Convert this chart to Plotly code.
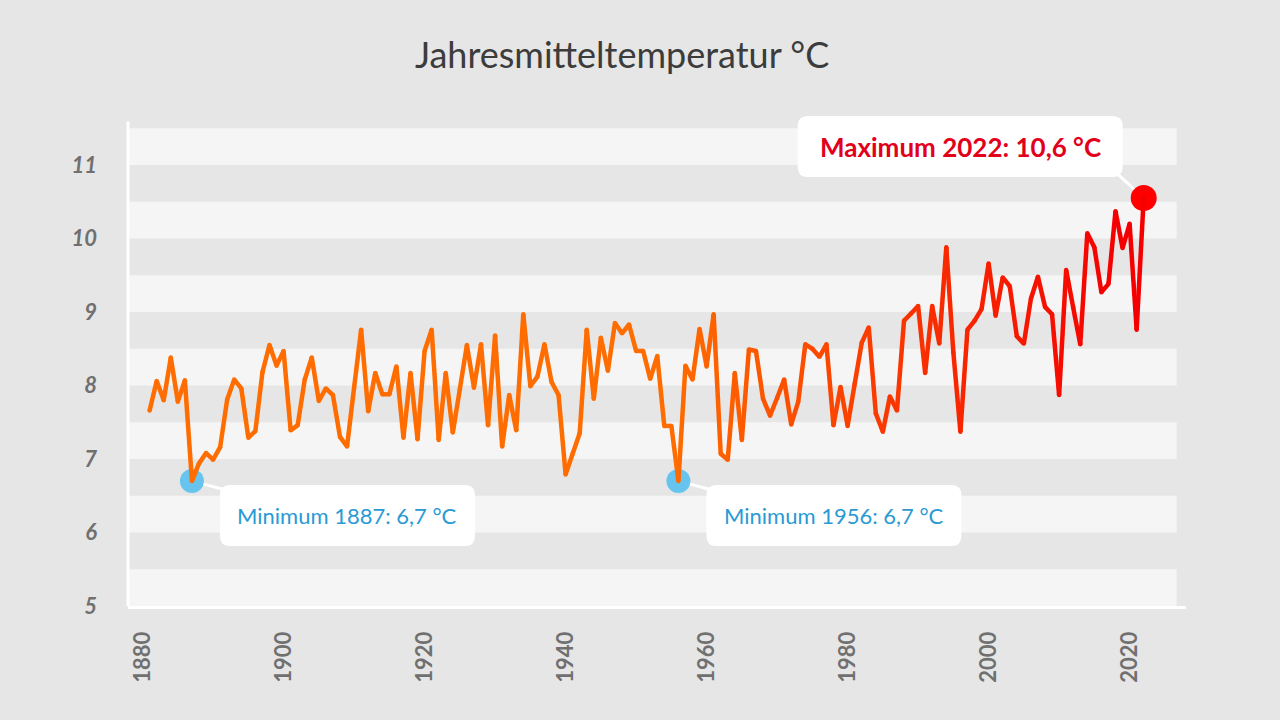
import plotly.graph_objects as go

# Jahresmitteltemperatur Deutschland 1881-2022
years = list(range(1881, 2023))
temps = [
    7.66, 8.06, 7.80, 8.38, 7.78, 8.07, 6.70, 6.94, 7.08, 6.99,  # 1881-1890
    7.16, 7.81, 8.08, 7.96, 7.29, 7.38, 8.18, 8.55, 8.27, 8.47,  # 1891-1900
    7.39, 7.46, 8.08, 8.38, 7.79, 7.96, 7.87, 7.30, 7.17, 7.97,  # 1901-1910
    8.76, 7.65, 8.17, 7.88, 7.88, 8.26, 7.29, 8.17, 7.27, 8.47,  # 1911-1920
    8.76, 7.26, 8.17, 7.36, 7.95, 8.55, 7.97, 8.56, 7.46, 8.68,  # 1921-1930
    7.17, 7.87, 7.39, 8.97, 7.99, 8.12, 8.56, 8.05, 7.87, 6.79,  # 1931-1940
    7.07, 7.35, 8.76, 7.82, 8.65, 8.20, 8.85, 8.71, 8.83, 8.47,  # 1941-1950
    8.47, 8.09, 8.40, 7.45, 7.45, 6.70, 8.27, 8.08, 8.77, 8.26,  # 1951-1960
    8.97, 7.07, 6.99, 8.17, 7.26, 8.49, 8.47, 7.82, 7.59, 7.83,  # 1961-1970
    8.08, 7.47, 7.78, 8.56, 8.50, 8.39, 8.56, 7.46, 7.98, 7.45,  # 1971-1980
    8.02, 8.58, 8.79, 7.62, 7.37, 7.85, 7.66, 8.88, 8.98, 9.08,  # 1981-1990
    8.17, 9.08, 8.57, 9.88, 8.45, 7.37, 8.76, 8.88, 9.04, 9.66,  # 1991-2000
    8.95, 9.47, 9.35, 8.67, 8.57, 9.18, 9.48, 9.07, 8.97, 7.87,  # 2001-2010
    9.57, 9.06, 8.56, 10.07, 9.88, 9.27, 9.38, 10.37, 9.87, 10.20,  # 2011-2020
    8.76, 10.55,  # 2021-2022
]

min_years = [1887, 1956]
min_temps = [6.7, 6.7]
min_labels = ["Minimum 1887: 6,7 °C", "Minimum 1956: 6,7 °C"]
max_year = 2022
max_temp = 10.55
max_label = "Maximum 2022: 10,6 °C"

x_ticks = list(range(1880, 2021, 20))
y_ticks = list(range(5, 12))

BG = "#e6e6e6"
STRIPE = "#f5f5f5"
FONT = "Lato"


def seg_color(year):
    t = min(max((year - 1955) / (2018 - 1955), 0), 1)
    return "rgb(%d,%d,0)" % (255 - 10 * t, 108 * (1 - t))


def rounded_box(x0, x1, y0, y1, r=10):
    # path in pixel offsets (y up) relative to an anchor
    return (f"M{x0 + r},{y1} L{x1 - r},{y1} Q{x1},{y1} {x1},{y1 - r} "
            f"L{x1},{y0 + r} Q{x1},{y0} {x1 - r},{y0} L{x0 + r},{y0} "
            f"Q{x0},{y0} {x0},{y0 + r} L{x0},{y1 - r} Q{x0},{y1} {x0 + r},{y1} Z")


fig = go.Figure()

# highlight dots first, the line runs over them
fig.add_trace(go.Scatter(
    x=min_years, y=min_temps, mode="markers",
    marker=dict(size=24, color="#66c4ee", line=dict(width=0)),
    hoverinfo="skip", showlegend=False))
fig.add_trace(go.Scatter(
    x=[max_year], y=[max_temp], mode="markers",
    marker=dict(size=26, color="#ff0000", line=dict(width=0)),
    hoverinfo="skip", showlegend=False))

for i in range(len(years) - 1):
    fig.add_trace(go.Scatter(
        x=years[i:i + 2], y=temps[i:i + 2], mode="lines",
        line=dict(color=seg_color(years[i]), width=4.5),
        hoverinfo="skip", showlegend=False))

# joints
fig.add_trace(go.Scatter(
    x=years, y=temps, mode="markers",
    marker=dict(size=4.5, color=[seg_color(y) for y in years], line=dict(width=0)),
    hoverinfo="skip", showlegend=False))

shapes = []
# stripes
for k in y_ticks:
    shapes.append(dict(type="rect", xref="paper", yref="y", x0=0, x1=0.9912,
                       y0=k, y1=k + 0.5, fillcolor=STRIPE, line=dict(width=0),
                       layer="below"))
# y axis line
shapes.append(dict(type="line", xref="paper", yref="paper", x0=0, x1=0,
                   y0=0, y1=0.9766, line=dict(color="white", width=3)))

annotations = []
# minimum boxes
for yr, t, lab in zip(min_years, min_temps, min_labels):
    shapes.append(dict(type="line", xref="x", yref="y", xsizemode="pixel",
                       ysizemode="pixel", xanchor=yr, yanchor=t,
                       x0=11.6, y0=-3.1, x1=30, y1=-8,
                       line=dict(color="white", width=3)))
    shapes.append(dict(type="path", xref="x", yref="y", xsizemode="pixel",
                       ysizemode="pixel", xanchor=yr, yanchor=t,
                       path=rounded_box(28, 283, -65, -4),
                       fillcolor="white", line=dict(width=0)))
    annotations.append(dict(x=yr, y=t, xref="x", yref="y", text=lab,
                            showarrow=False, xshift=155.5, yshift=-34.5,
                            font=dict(family=FONT, size=22, color="#2a9ad4")))

# maximum box
shapes.append(dict(type="line", xref="x", yref="y", xsizemode="pixel",
                   ysizemode="pixel", xanchor=max_year, yanchor=max_temp,
                   x0=-9.5, y0=8.8, x1=-26, y1=24,
                   line=dict(color="white", width=3)))
shapes.append(dict(type="path", xref="x", yref="y", xsizemode="pixel",
                   ysizemode="pixel", xanchor=max_year, yanchor=max_temp,
                   path=rounded_box(-346, -21, 21, 82),
                   fillcolor="white", line=dict(width=0)))
annotations.append(dict(x=max_year, y=max_temp, xref="x", yref="y", text=max_label,
                        showarrow=False, xshift=-183.5, yshift=51.5,
                        font=dict(family=FONT, size=26, color="#e2001a", weight="bold")))

fig.update_layout(
    width=1280, height=720,
    template="none",
    paper_bgcolor=BG, plot_bgcolor=BG,
    margin=dict(l=128, r=94, t=110, b=114),
    title=dict(text="Jahresmitteltemperatur °C", xref="container", yref="container",
               x=0.486, xanchor="center", y=1 - 55 / 720, yanchor="middle",
               font=dict(family=FONT, size=36, color="#3c3c3c")),
    xaxis=dict(range=[1877.93, 2028.0], tickvals=x_ticks, tickangle=-90,
               showgrid=False, zeroline=False, showline=True, linecolor="white",
               linewidth=3, ticks="", automargin=False, ticklabelstandoff=14,
               tickfont=dict(family=FONT, size=22, color="#707070", weight="bold")),
    yaxis=dict(range=[5, 11.748], tickvals=y_ticks, showgrid=False, zeroline=False,
               showline=False, ticks="", automargin=False, ticklabelstandoff=30,
               tickfont=dict(family=FONT, size=22, color="#707070", weight="bold",
                             style="italic")),
    shapes=shapes,
    annotations=annotations,
    showlegend=False,
)

fig.write_html("out.html", config={"displayModeBar": False},
               post_script="document.body.style.margin='0';")
